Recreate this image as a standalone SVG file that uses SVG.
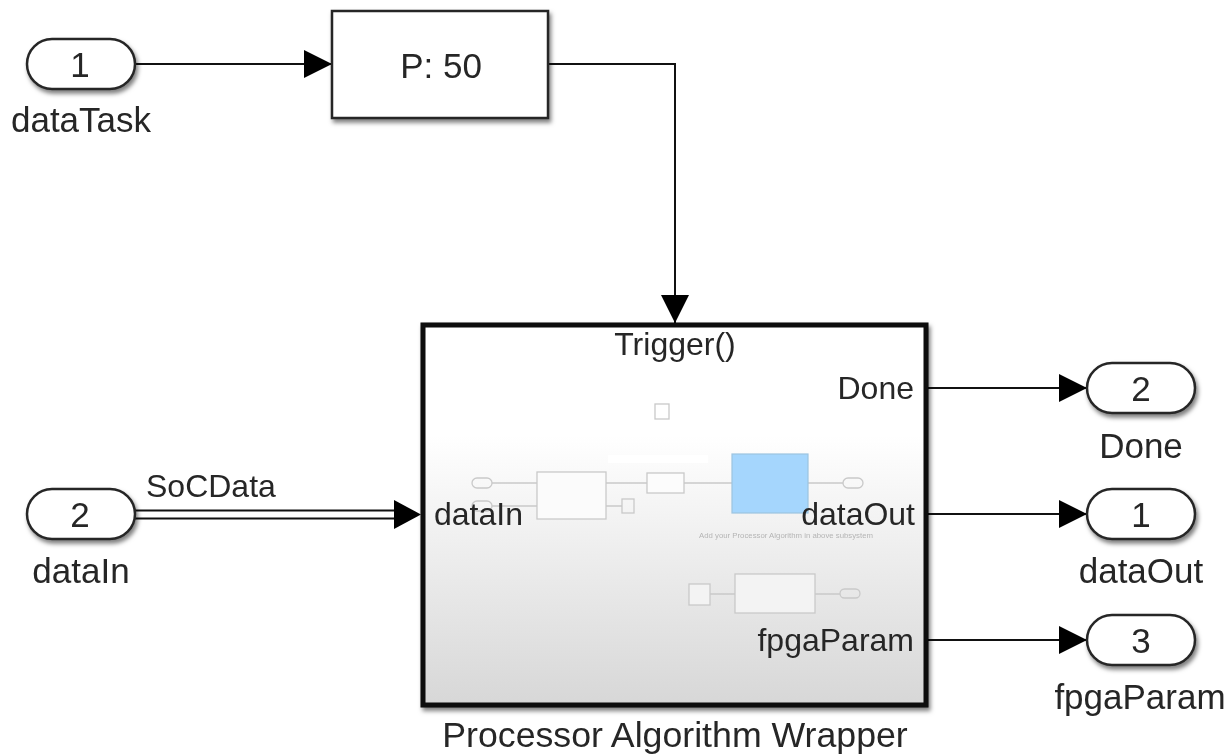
<svg xmlns="http://www.w3.org/2000/svg" width="1232" height="754" viewBox="0 0 1232 754">
<style>
text{font-family:"Liberation Sans",Arial,sans-serif;font-size:35px;fill:#262626;filter:url(#soft)}
.m{text-anchor:middle}.e{text-anchor:end}
.in{font-size:32px}
.block{fill:#fff;stroke:#262626;stroke-width:2.5}
.wire{fill:none;stroke:#111;stroke-width:2}
.thumb{fill:none;stroke:#c9c9c9;stroke-width:1.3}
</style>
<defs>
<filter id="soft" x="-5%" y="-10%" width="110%" height="120%"><feGaussianBlur stdDeviation="0.45"/></filter>
<filter id="shadow" x="-10%" y="-10%" width="125%" height="130%"><feDropShadow dx="2" dy="3.5" stdDeviation="2.2" flood-color="#000" flood-opacity="0.5"/></filter>
<linearGradient id="fade" x1="0" y1="0" x2="0" y2="1"><stop offset="0" stop-color="#fff"/><stop offset="0.29" stop-color="#fff"/><stop offset="1" stop-color="#d7d7d7"/></linearGradient>
<marker id="arrow" markerUnits="userSpaceOnUse" markerWidth="28" markerHeight="28" refX="28" refY="14" orient="auto"><path d="M0 0L28 14L0 28Z" fill="#000"/></marker>
</defs>
<rect width="1232" height="754" fill="#fff"/>
<g id="connectors">
<path class="wire" d="M135 64H332" marker-end="url(#arrow)"/>
<path class="wire" d="M548 64H675V323" marker-end="url(#arrow)"/>
<path class="wire" d="M135 510.500H400M135 518.500H400"/>
<path d="M394 500L421 514.500L394 529Z" fill="#000"/>
<path class="wire" d="M928 388H1087" marker-end="url(#arrow)"/>
<path class="wire" d="M928 514H1087" marker-end="url(#arrow)"/>
<path class="wire" d="M928 640H1087" marker-end="url(#arrow)"/>
<text class="in" x="146" y="497">SoCData</text>
</g>
<g id="inport1"><rect class="block" x="27" y="39" width="108" height="50" rx="25" filter="url(#shadow)"/><text class="m" x="80" y="77">1</text><text class="m" x="81" y="132">dataTask</text></g>
<g id="inport2"><rect class="block" x="27" y="489" width="108" height="50" rx="25" filter="url(#shadow)"/><text class="m" x="80" y="527">2</text><text class="m" x="81" y="583">dataIn</text></g>
<g id="rate"><rect class="block" x="332" y="11" width="216" height="107" filter="url(#shadow)"/><text class="m" x="441" y="78">P: 50</text></g>
<g id="wrapper">
<rect x="423" y="325" width="503" height="380" fill="url(#fade)" stroke="#0a0a0a" stroke-width="5" filter="url(#shadow)"/>
<g class="thumbnail">
<rect x="608" y="455" width="100" height="8" fill="#fff"/>
<path class="thumb" d="M492 483H537M492 506H537M606 483H647M606 506H622M684 483H732M808 483H843M710 594H735M815 594H840"/>
<rect class="thumb" x="655" y="404" width="14" height="15"/>
<rect class="thumb" x="472" y="478" width="20" height="10" rx="5"/>
<rect class="thumb" x="472" y="501" width="20" height="10" rx="5"/>
<rect class="thumb" x="537" y="472" width="69" height="47" style="fill:#fbfbfb"/>
<rect class="thumb" x="647" y="473" width="37" height="20" style="fill:#fcfcfc"/>
<rect x="732" y="454" width="76" height="59" fill="#a5d6fd" stroke="#9cc3e0" stroke-width="1.200"/>
<rect class="thumb" x="622" y="499" width="12" height="14"/>
<rect class="thumb" x="843" y="478" width="20" height="10" rx="5"/>
<rect class="thumb" x="689" y="584" width="21" height="21" style="fill:#f3f3f3"/>
<rect class="thumb" x="735" y="574" width="80" height="39" style="fill:#f3f3f3"/>
<rect class="thumb" x="840" y="589" width="20" height="9" rx="4.500"/>
<text x="699" y="538" textLength="174" lengthAdjust="spacingAndGlyphs" style="font-size:7px;fill:#b5b5b5">Add your Processor Algorithm in above subsystem</text>
</g>
<text class="m in" x="675" y="355">Trigger()</text>
<text class="e in" x="914" y="399">Done</text>
<text class="in" x="434" y="525">dataIn</text>
<text class="e in" x="915" y="525">dataOut</text>
<text class="e in" x="914" y="651">fpgaParam</text>
<text class="m" x="675" y="747" style="font-size:35.700px">Processor Algorithm Wrapper</text>
</g>
<g id="outport2"><rect class="block" x="1087" y="363" width="108" height="50" rx="25" filter="url(#shadow)"/><text class="m" x="1141" y="401">2</text><text class="m" x="1141" y="458">Done</text></g>
<g id="outport1"><rect class="block" x="1087" y="489" width="108" height="50" rx="25" filter="url(#shadow)"/><text class="m" x="1141" y="527">1</text><text class="m" x="1141" y="583">dataOut</text></g>
<g id="outport3"><rect class="block" x="1087" y="615" width="108" height="50" rx="25" filter="url(#shadow)"/><text class="m" x="1141" y="653">3</text><text class="m" x="1140" y="709">fpgaParam</text></g>
</svg>
